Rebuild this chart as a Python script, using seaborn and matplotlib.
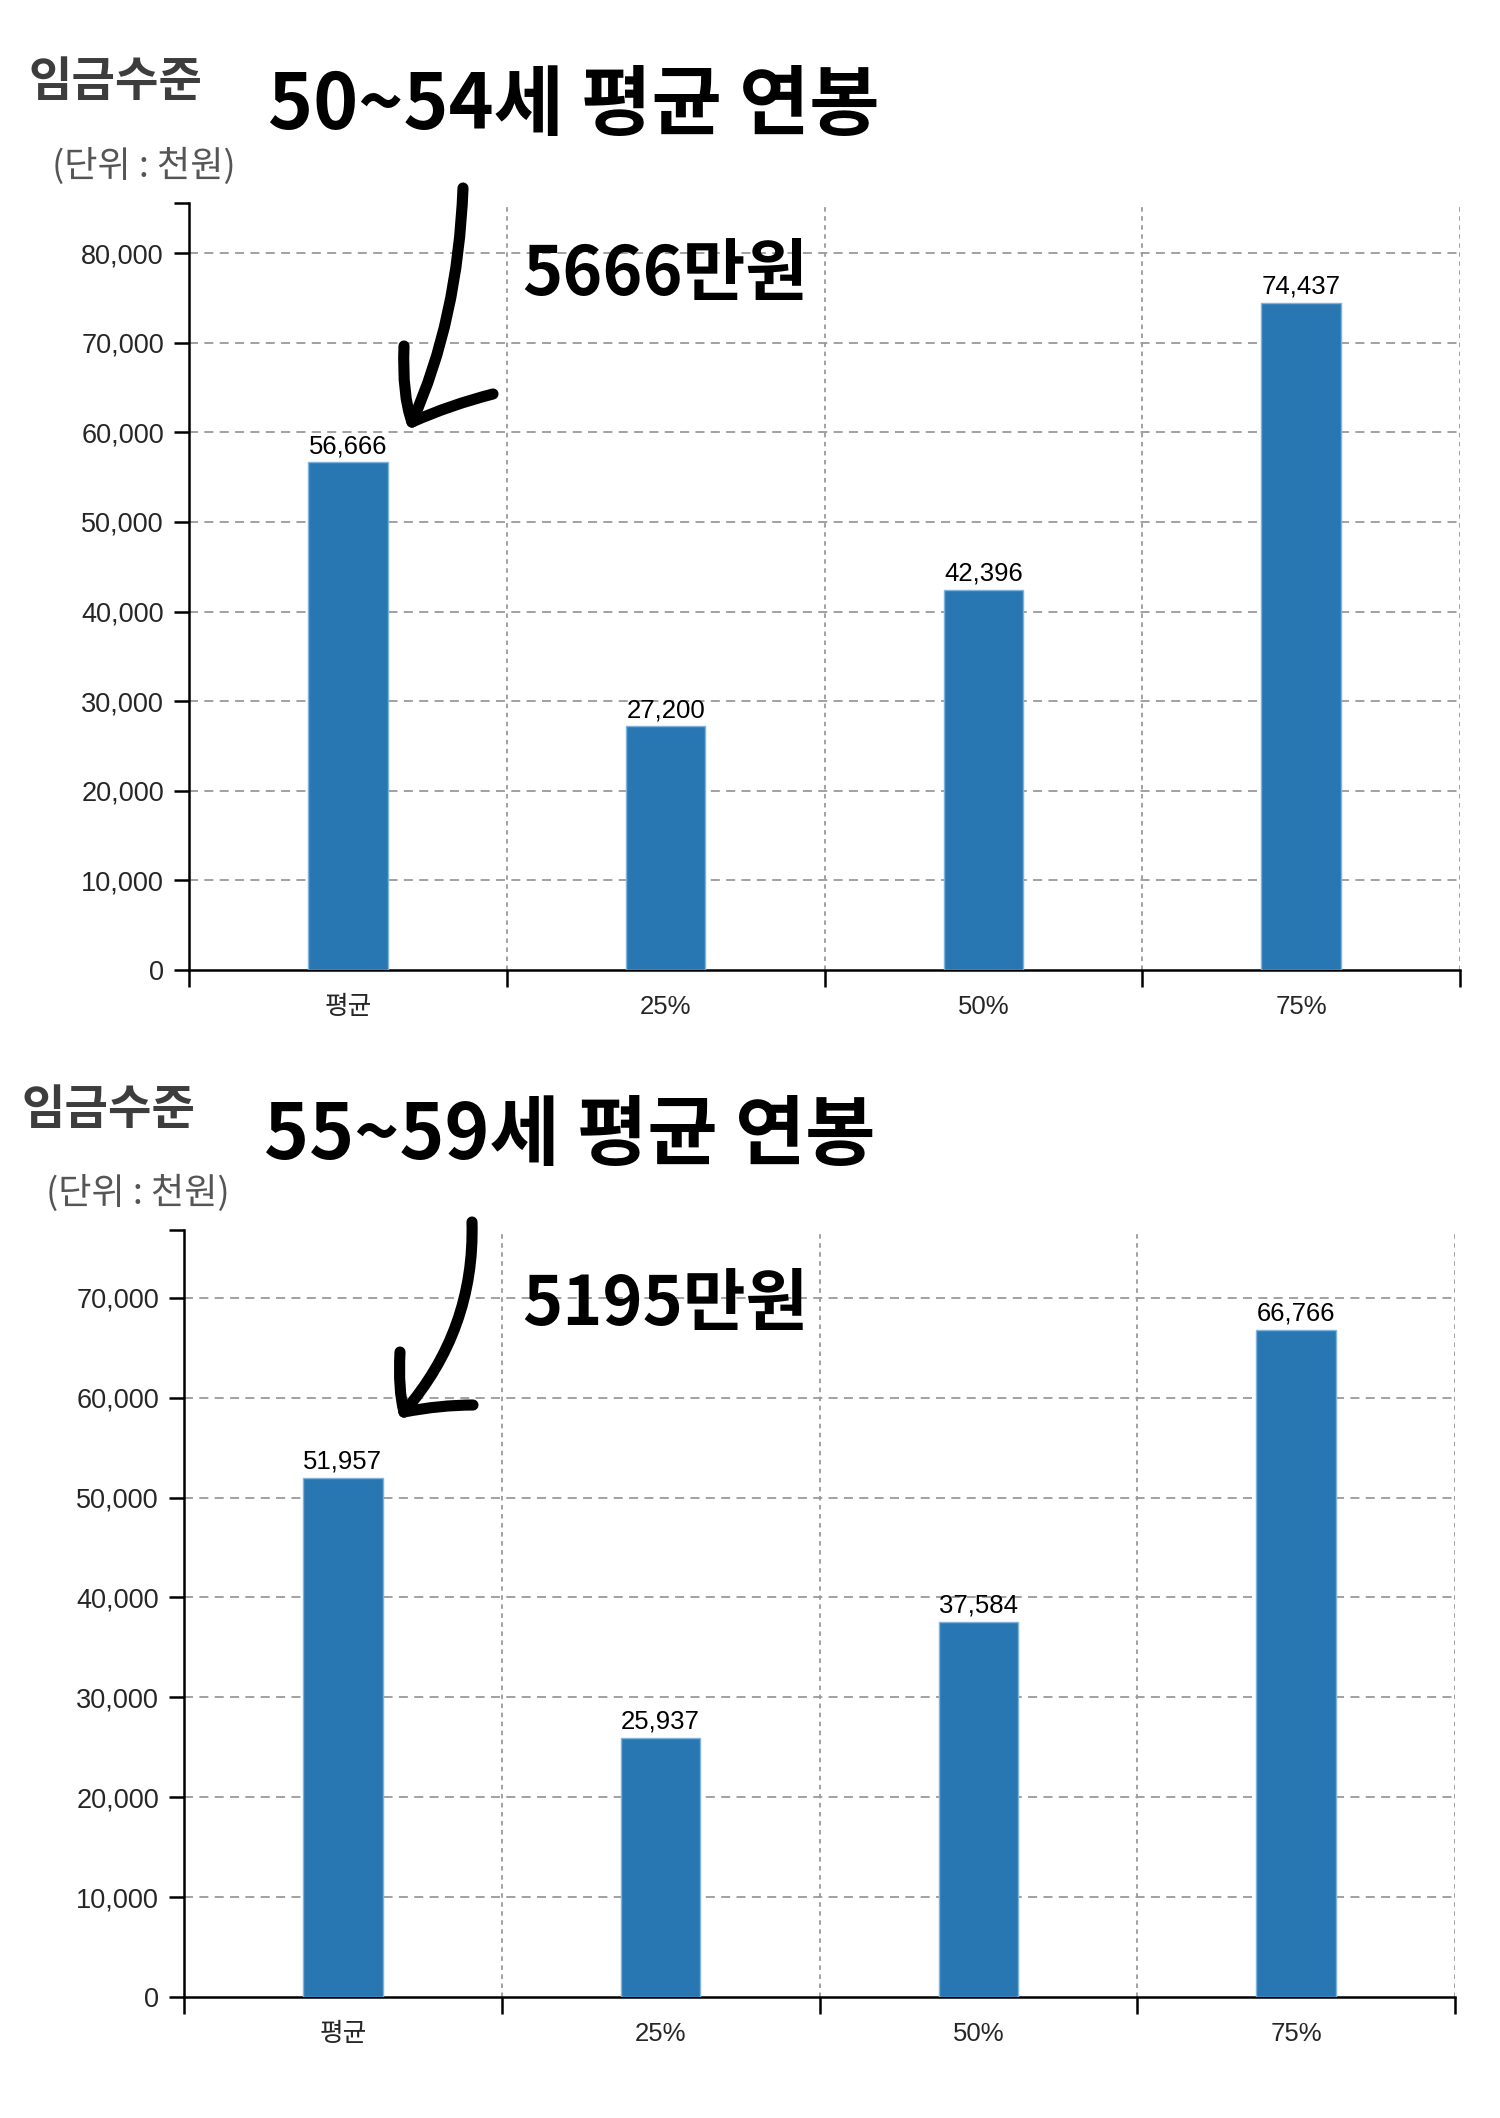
import matplotlib
matplotlib.use("Agg")
import matplotlib.pyplot as plt
import seaborn as sns
from matplotlib.path import Path
from matplotlib.patches import PathPatch
from matplotlib.ticker import FuncFormatter

categories = ["평균", "25%", "50%", "75%"]
values_50_54 = [56666, 27200, 42396, 74437]
values_55_59 = [51957, 25937, 37584, 66766]
yticks_50_54 = [0, 10000, 20000, 30000, 40000, 50000, 60000, 70000, 80000]
yticks_55_59 = [0, 10000, 20000, 30000, 40000, 50000, 60000, 70000]
titles = ["50~54세 평균 연봉", "55~59세 평균 연봉"]
callouts = ["5666만원", "5195만원"]
label_wage = "임금수준"
label_unit = "(단위 : 천원)"

sns.set_theme(style="white")
plt.rcParams['font.family'] = ['Liberation Sans', 'Noto Sans CJK KR', 'DejaVu Sans']
KR = ['Noto Sans CJK KR', 'DejaVu Sans']

W, H = 1500, 2118
fig = plt.figure(figsize=(15, 21.18), dpi=100)
fig.patch.set_facecolor("white")

BAR = "#2977b2"

def fx(px):
    return px / W

def fy(py):
    return 1 - py / H

def draw_panel(rect, values, yticks):
    ax = fig.add_axes(rect)
    ymax = max(values) * 1.15
    sns.barplot(x=categories, y=values, color=BAR, width=0.25, saturation=1,
                edgecolor="#7fb2dc", linewidth=1.0, ax=ax, zorder=3)
    ax.set_xlim(-0.5, len(categories) - 0.5)
    ax.set_ylim(0, ymax)
    ax.set_yticks(yticks)
    ax.yaxis.set_major_formatter(FuncFormatter(lambda v, p: f"{v:,.0f}"))
    ax.set_yticks([ymax], minor=True)
    edges = [i - 0.5 for i in range(len(categories) + 1)]
    ax.set_xticks(range(len(categories)))
    ax.set_xticklabels(categories, fontsize=18.5)
    ax.set_xticks(edges, minor=True)
    ax.tick_params(bottom=True, left=True, which="both")
    ax.tick_params(axis="x", which="major", length=0, pad=18)
    ax.tick_params(axis="x", which="minor", length=12, width=1.8, color="black", direction="out")
    ax.tick_params(axis="y", which="both", length=11, width=1.8, color="black",
                   direction="out", labelsize=19.5, pad=7)
    for t in ax.get_xticklabels():
        t.set_fontfamily(['Liberation Sans', 'Noto Sans CJK KR'])
    ax.set_xlabel("")
    ax.set_ylabel("")
    for s in ["top", "right"]:
        ax.spines[s].set_visible(False)
    for s in ["left", "bottom"]:
        ax.spines[s].set_color("black")
        ax.spines[s].set_linewidth(1.8)
    for y in yticks[1:]:
        ax.axhline(y, color="#9a9a9a", lw=1.3, ls=(0, (5, 3.5)), zorder=1)
    for x in edges[1:]:
        ax.axvline(x, color="#9a9a9a", lw=1.3, ls=(0, (2.5, 2.5)), zorder=1)
    for c in ax.containers:
        ax.bar_label(c, labels=[f"{v:,.0f}" for v in values], padding=3,
                     fontsize=18.5, color="black")
    return ax

ax1 = draw_panel([fx(189), fy(970), fx(1460) - fx(189), fy(203) - fy(970)],
                 values_50_54, yticks_50_54)
ax2 = draw_panel([fx(184), fy(1997), fx(1455) - fx(184), fy(1230) - fy(1997)],
                 values_55_59, yticks_55_59)

def txt(x, y, s, size, color, weight="normal", ha="left"):
    fig.text(fx(x), fy(y), s, fontsize=size, color=color, fontweight=weight,
             family=KR, ha=ha, va="center")

# top panel texts
txt(28, 82, label_wage, 34, "#3d3d3d", "heavy")
txt(52, 166, label_unit, 26, "#555555")
txt(268, 106, titles[0], 55, "black", "heavy")
txt(522, 276, callouts[0], 49, "black", "heavy")
# bottom panel texts
txt(22, 1110, label_wage, 34, "#3d3d3d", "heavy")
txt(46, 1193, label_unit, 26, "#555555")
txt(264, 1136, titles[1], 55, "black", "heavy")
txt(522, 1305, callouts[1], 49, "black", "heavy")

def stroke(points, codes):
    pts = [(fx(x), fy(y)) for x, y in points]
    p = PathPatch(Path(pts, codes), transform=fig.transFigure, fill=False,
                  lw=8, edgecolor="black", capstyle="round", joinstyle="round")
    fig.add_artist(p)

Q = [Path.MOVETO, Path.CURVE3, Path.CURVE3]
# top arrow
stroke([(463, 188), (458, 320), (412, 422)], Q)
stroke([(404, 346), (402, 395), (412, 422)], Q)
stroke([(412, 422), (450, 405), (493, 394)], Q)
# bottom arrow
stroke([(472, 1222), (475, 1330), (404, 1412)], Q)
stroke([(400, 1352), (398, 1390), (404, 1412)], Q)
stroke([(404, 1412), (440, 1405), (473, 1405)], Q)

fig.savefig("out.png", dpi=100, facecolor="white")
